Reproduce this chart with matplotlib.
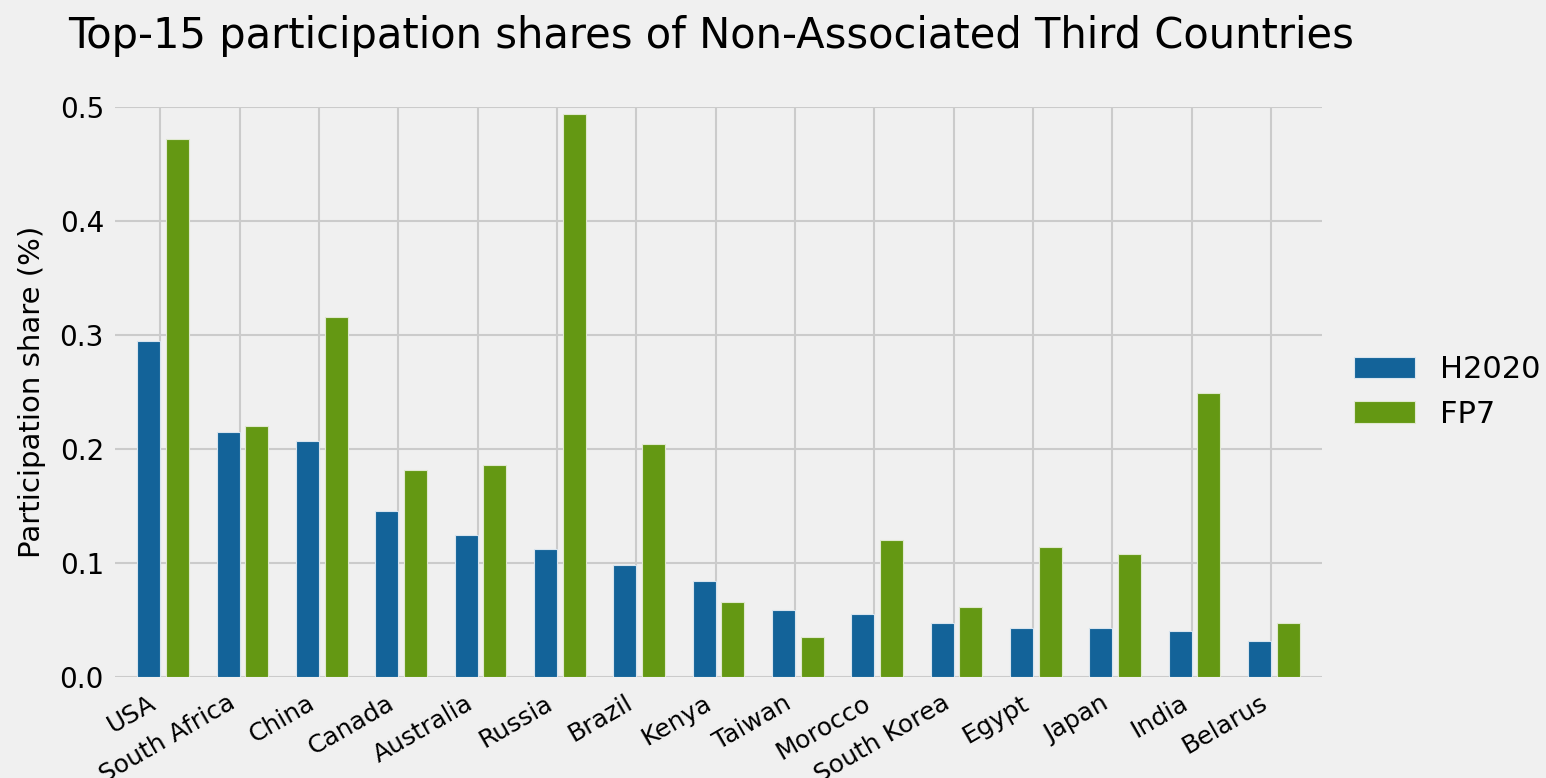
import matplotlib
matplotlib.use('Agg')
import matplotlib.pyplot as plt
import numpy as np

countries = ['USA', 'South Africa', 'China', 'Canada', 'Australia', 'Russia', 'Brazil',
             'Kenya', 'Taiwan', 'Morocco', 'South Korea', 'Egypt', 'Japan', 'India', 'Belarus']
h2020 = [0.295, 0.215, 0.207, 0.146, 0.125, 0.112, 0.098, 0.084, 0.059, 0.055, 0.047, 0.043, 0.043, 0.040, 0.032]
fp7 = [0.472, 0.220, 0.316, 0.182, 0.186, 0.494, 0.204, 0.066, 0.035, 0.120, 0.061, 0.114, 0.108, 0.249, 0.047]
yticks = [0.0, 0.1, 0.2, 0.3, 0.4, 0.5]

BG = '#f0f0f0'
BLUE, GREEN = '#136399', '#649813'

fig = plt.figure(figsize=(15.46, 7.78), dpi=100, facecolor=BG)
ax = fig.add_axes([0.0744, 0.1298, 0.7807, 0.7327], facecolor=BG)

x = np.arange(len(countries))
w = 0.29
ax.bar(x - w, h2020, width=w, align='edge', color=BLUE, edgecolor='#d8e4ee', linewidth=0.8, label='H2020', zorder=2)
ax.bar(x + 0.07, fp7, width=w, align='edge', color=GREEN, edgecolor='#dfe8cf', linewidth=0.8, label='FP7', zorder=2)

ax.set_xlim(-0.57, len(countries) - 1 + 0.64)
ax.set_ylim(0, 0.5)
ax.set_yticks(yticks)
ax.set_yticklabels([f'{v:.1f}' for v in yticks], fontsize=20)
ax.set_xticks(x)
ax.set_xticklabels(countries, rotation=30, ha='right', fontsize=18)
ax.tick_params(axis='y', length=0, pad=8)
ax.tick_params(axis='x', length=0, pad=10)
ax.grid(True, color='#cbcbcb', linewidth=1.5, zorder=0)
ax.set_axisbelow(True)
for s in ax.spines.values():
    s.set_visible(False)

ax.set_ylabel('Participation share (%)', fontsize=21, labelpad=10)
fig.text(0.044, 0.938, 'Top-15 participation shares of Non-Associated Third Countries', fontsize=30, ha='left', va='baseline')

ax.legend(loc='center left', bbox_to_anchor=(1.004, 0.5), frameon=False, fontsize=22, handlelength=2.0)

fig.savefig('out.png', dpi=100, facecolor=BG)
